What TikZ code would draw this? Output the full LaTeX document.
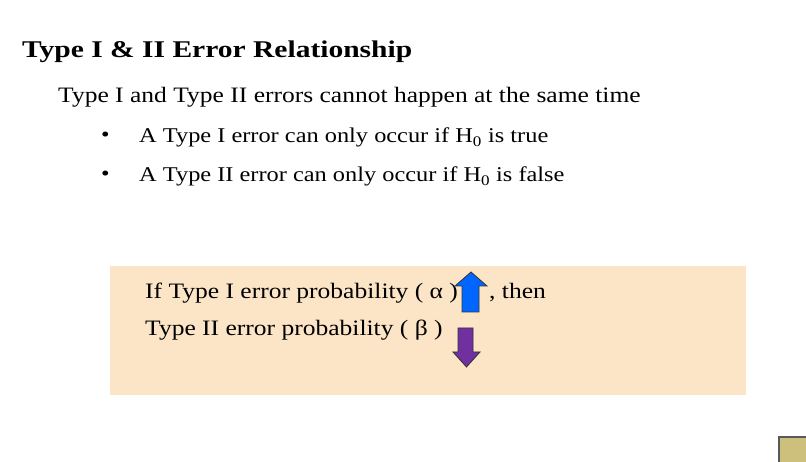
\documentclass[tikz,border=0pt]{standalone}
\usepackage{fontspec}
\setmainfont{Liberation Serif}[FakeStretch=1.16]
\newfontfamily\titlefont{Liberation Serif}[FakeStretch=1.23]
\usetikzlibrary{positioning}

\definecolor{peach}{RGB}{252,228,198}
\definecolor{upblue}{RGB}{0,102,255}
\definecolor{downpurple}{RGB}{112,48,160}
\definecolor{olive}{RGB}{204,192,124}

\begin{document}
\begin{tikzpicture}[x=1pt, y=-1pt,
    txt/.style={anchor=base west, inner sep=0pt},
    arr/.style={draw=black!80, line width=0.8pt, line join=miter}]
    % canvas
    \useasboundingbox (0,0) rectangle (806,462);
    \fill[white] (0,0) rectangle (806,462);

    % Title and points
    \node[txt, font=\titlefont\bfseries\fontsize{24}{28}\selectfont] (title) at (22,58) {Type I \& II Error Relationship};
    \node[txt, font=\fontsize{22}{26}\selectfont] (intro) at (58,103) {Type I and Type II errors cannot happen at the same time};
    \node[txt, font=\fontsize{21}{25}\selectfont] (dotA) at (101,142) {\textbullet};
    \node[txt, font=\fontsize{21}{25}\selectfont] (ptA) at (139,143) {A Type I error can only occur if H\textsubscript{0} is true};
    \node[txt, font=\fontsize{21}{25}\selectfont] (dotB) at (101,181) {\textbullet};
    \node[txt, font=\fontsize{21}{25}\selectfont] (ptB) at (139,182) {A Type II error can only occur if H\textsubscript{0} is false};

    % Relationship box
    \fill[peach] (110,266) rectangle (746,395);
    \node[txt, font=\fontsize{22}{26}\selectfont] (alpha) at (145,299) {If Type I error probability ( α )};
    \node[txt, font=\fontsize{22}{26}\selectfont] (then) at (489,299) {, then};
    \node[txt, font=\fontsize{22}{26}\selectfont] (beta) at (145,336) {Type II error probability ( β )};

    % Up and down arrows
    \draw[arr, fill=upblue] (462,312) -- (462,286) -- (455,286) -- (471,272) -- (487,286) -- (479,286) -- (479,312) -- cycle;
    \draw[arr, fill=downpurple] (458,328) -- (458,352) -- (453,352) -- (466.5,367) -- (480,352) -- (473,352) -- (473,328) -- cycle;

    % corner square
    \draw[fill=olive, draw=black!65, line width=1.5pt] (779,437) rectangle (812,468);
\end{tikzpicture}
\end{document}
